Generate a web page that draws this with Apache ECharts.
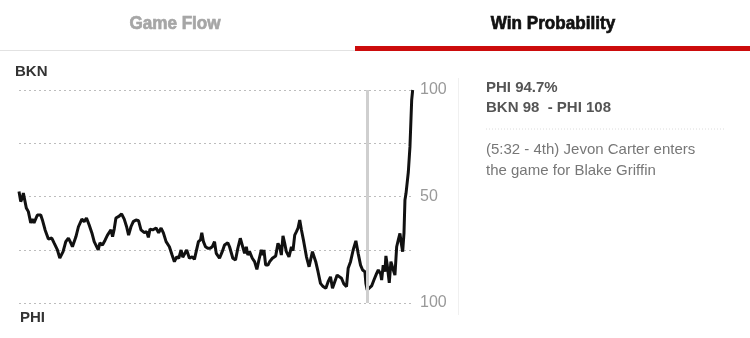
<!DOCTYPE html>
<html>
<head>
<meta charset="utf-8">
<script src="https://cdn.jsdelivr.net/npm/echarts@6/dist/echarts.min.js"></script>
<style>
html,body{margin:0;padding:0;background:#fff;}
#chart{width:750px;height:338px;}
</style>
</head>
<body>
<div id="chart"></div>
<script>
// Game clock (minutes elapsed) and win probability (0 = PHI 100%, 100 = BKN 100%)
var minutes = [0,0.21,0.40,0.53,0.73,0.89,1.14,1.43,1.62,1.83,2.24,2.65,2.85,3.18,3.58,3.99,4.27,4.68,4.97,5.37,5.70,6.02,6.31,6.51,6.93,7.24,7.66,7.94,8.22,8.55,8.88,9.16,9.37,9.65,9.86,10.17,10.50,10.78,10.99,11.20,11.40,11.60,11.81,12.01,12.21,12.50,12.82,13.11,13.35,13.64,13.92,14.25,14.57,14.86,15.27,15.55,15.76,15.96,16.28,16.49,16.70,17.01,17.31,17.59,17.92,18.32,18.65,18.93,19.21,19.46,19.75,19.95,20.15,20.43,20.76,21.09,21.37,21.58,21.86,22.11,22.27,22.47,22.72,23.00,23.29,23.54,23.82,24.03,24.22,24.43,24.76,25.04,25.44,25.65,26.05,26.38,26.66,26.96,27.20,27.48,27.69,27.88,28.09,28.42,28.70,28.98,29.23,29.52,29.72,29.84,30.05,30.33,30.54,30.87,31.27,31.55,31.76,31.96,32.16,32.37,32.57,32.89,33.19,33.38,33.59,33.80,33.99,34.20,34.41,34.69,35.02,35.34,35.51,35.75,35.91,36.15,36.43,36.73,37.05,37.38,37.66,37.95,38.19,38.47,38.76,39.00,39.29,39.58,39.90,40.10,40.39,40.71,41.04,41.32,41.61,41.86,42.02,42.14,42.26,42.42,42.66,42.96,43.24,43.57,43.77,44.06,44.18,44.37,44.58,44.70,44.86,45.11,45.31,45.60,45.80,46.01,46.21,46.41,46.54,46.74,46.90,47.02,47.15,47.43,47.63,47.84,47.96];
var winProb = [52.3,47.6,49.3,51.6,51.8,44.6,42.9,37.6,39.4,37.6,41.3,41.3,39.0,34.3,30.0,30.5,28.2,24.9,21.1,24.1,28.8,30.5,28.2,26.4,31.1,35.8,39.4,38.2,39.9,36.6,32.9,28.8,27.2,24.9,28.2,27.2,29.6,31.9,31.5,34.3,31.1,34.7,39.9,39.0,40.8,41.8,39.4,35.8,31.9,35.8,38.2,39.0,38.6,34.3,33.0,33.5,30.8,34.7,34.3,33.5,35.2,33.0,35.2,32.9,28.8,26.4,22.5,19.4,21.7,21.0,24.9,21.5,21.7,24.9,21.0,21.7,20.5,21.0,28.8,29.6,33.0,28.8,26.4,25.7,25.7,26.4,28.8,23.3,22.5,21.0,24.1,27.2,28.3,26.4,21.0,20.2,25.7,30.4,29.6,23.3,26.4,22.5,24.1,21.0,19.4,15.8,20.2,24.9,22.5,24.9,17.8,17.8,19.4,21.0,22.1,28.0,26.4,22.5,31.5,28.0,24.1,21.7,26.4,24.6,31.9,33.5,35.1,39.0,34.3,28.8,21.7,17.0,17.8,24.1,24.9,19.4,14.7,9.2,7.7,6.9,10.0,12.3,6.9,10.0,13.1,13.9,11.6,8.9,7.7,16.3,19.4,24.9,29.2,23.3,17.8,15.5,16.3,14.7,9.2,6.1,6.9,8.0,10.8,13.9,15.5,13.6,10.8,17.8,14.7,22.1,17.8,9.5,19.4,15.5,13.1,26.4,29.6,32.7,28.8,24.1,32.7,48.4,51.5,61.5,73.4,95.3,100];
var currentMinute = 42.47; // 5:32 - 4th
var yTicks = {0:'100', 50:'50', 100:'100'};
var tabs = ['Game Flow', 'Win Probability'];
var teamTop = 'BKN', teamBottom = 'PHI';
var infoLines = ['PHI 94.7%', 'BKN 98  - PHI 108'];
var playText = ['(5:32 - 4th) Jevon Carter enters', 'the game for Blake Griffin'];

var data = minutes.map(function(m,i){return [m, winProb[i]];});
var chart = echarts.init(document.getElementById('chart'));
var font = 'Liberation Sans';
chart.setOption({
  animation:false,
  grid:{left:19, right:337, top:90, bottom:35},
  xAxis:{type:'value', min:0, max:48, show:false},
  yAxis:{type:'value', min:0, max:100, interval:25, position:'right',
    axisLine:{show:false}, axisTick:{show:false},
    axisLabel:{margin:7, color:'#999', fontSize:16, fontFamily:font,
      formatter:function(v){return yTicks[v]!==undefined?yTicks[v]:'';}},
    splitLine:{show:true, lineStyle:{color:'#bdbdbd', type:[2,3], width:1}}
  },
  series:[{
    type:'line', data:data, symbol:'none', smooth:false,
    lineStyle:{color:'#111', width:3},
    markLine:{silent:true, symbol:'none', label:{show:false},
      lineStyle:{color:'#cfcfcf', type:'solid', width:3},
      data:[{xAxis:currentMinute}]},
    z:3
  }],
  graphic:[
    {type:'rect', shape:{x:0,y:50,width:355,height:1}, style:{fill:'#e2e2e2'}},
    {type:'rect', shape:{x:355,y:46,width:395,height:5}, style:{fill:'#cc0c0c'}},
    {type:'text', x:175, y:24, scaleX:0.9, style:{text:tabs[0], fill:'#a6a6a6', stroke:'#a6a6a6', lineWidth:0.7, fontFamily:font, fontSize:19, fontWeight:'bold', textAlign:'center', textVerticalAlign:'middle'}},
    {type:'text', x:553, y:24, scaleX:0.9, style:{text:tabs[1], fill:'#111', stroke:'#111', lineWidth:0.7, fontFamily:font, fontSize:19, fontWeight:'bold', textAlign:'center', textVerticalAlign:'middle'}},
    {type:'text', x:15, y:72, style:{text:teamTop, fill:'#333', fontFamily:font, fontSize:15, fontWeight:'bold', textVerticalAlign:'middle'}},
    {type:'text', x:20, y:318, style:{text:teamBottom, fill:'#333', fontFamily:font, fontSize:15, fontWeight:'bold', textVerticalAlign:'middle'}},
    {type:'rect', shape:{x:458,y:78,width:1,height:237}, style:{fill:'#f0f0f0'}},
    {type:'text', x:486, y:88, style:{text:infoLines[0], fill:'#555', fontFamily:font, fontSize:15, fontWeight:'bold', textVerticalAlign:'middle'}},
    {type:'text', x:486, y:108, style:{text:infoLines[1], fill:'#555', fontFamily:font, fontSize:15, fontWeight:'bold', textVerticalAlign:'middle'}},
    {type:'line', shape:{x1:486,y1:129,x2:724,y2:129}, style:{stroke:'#dcdcdc', lineWidth:1, lineDash:[1,2]}},
    {type:'text', x:486, y:150, style:{text:playText[0], fill:'#777', fontFamily:font, fontSize:15, textVerticalAlign:'middle'}},
    {type:'text', x:486, y:171, style:{text:playText[1], fill:'#777', fontFamily:font, fontSize:15, textVerticalAlign:'middle'}}
  ]
});
</script>
</body>
</html>
